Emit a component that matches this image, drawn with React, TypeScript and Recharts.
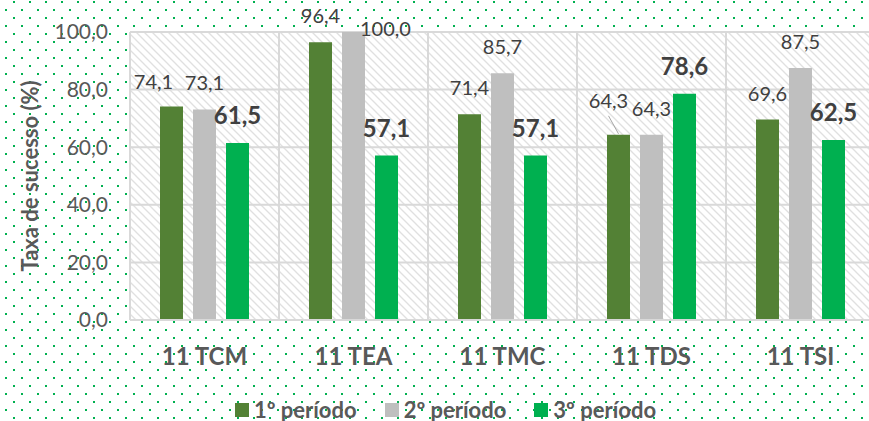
import React from 'react';
import { BarChart, Bar, XAxis, YAxis, CartesianGrid, Legend, LabelList } from 'recharts';

const categories = ['11 TCM', '11 TEA', '11 TMC', '11 TDS', '11 TSI'];
const periodo1 = [74.1, 96.4, 71.4, 64.3, 69.6];
const periodo2 = [73.1, 100.0, 85.7, 64.3, 87.5];
const periodo3 = [61.5, 57.1, 57.1, 78.6, 62.5];
const seriesNames = ['1º período', '2º período', '3º período'];
const yTicks = [0, 20, 40, 60, 80, 100];

const data = categories.map((name, i) => ({
  name,
  p1: periodo1[i],
  p2: periodo2[i],
  p3: periodo3[i],
}));

// manual label moves, like the ones Excel ended up with
const nudges: Record<string, { dx: number; dy: number; leader?: boolean }> = {
  '1-0': { dx: -18, dy: 1 },
  '2-1': { dx: 32, dy: 23 },
  '1-3': { dx: -10, dy: -8, leader: true },
};

const fmt = (v: number) => Number(v).toFixed(1).replace('.', ',');

const dotSvg =
  "<svg xmlns='http://www.w3.org/2000/svg' width='16' height='16'>" +
  "<rect x='13' y='1' width='2' height='2' fill='#00B050'/>" +
  "<rect x='5' y='9' width='2' height='2' fill='#00B050'/></svg>";

const renderLabel = (series: number, bold: boolean) => (props: any) => {
  const { x, y, width, value, index } = props;
  const cx = Number(x) + Number(width) / 2;
  const top = Number(y);
  const n = nudges[`${series}-${index}`] || { dx: 0, dy: 0 };
  const lx = cx + n.dx;
  const base = top - 19 + n.dy;
  return (
    <g>
      {n.leader && <line x1={lx} y1={base + 8} x2={cx} y2={top - 1} stroke="#A6A6A6" strokeWidth={1} />}
      <text x={lx} y={base} textAnchor="middle" fontSize={bold ? 24 : 20} fontWeight={bold ? 700 : 400} fill="#404040">
        {fmt(value)}
      </text>
    </g>
  );
};

const renderLegend = (props: any) => {
  const items = props.payload || [];
  return (
    <ul style={{ display: 'flex', justifyContent: 'center', margin: 0, padding: 0, paddingLeft: 16, listStyle: 'none', lineHeight: '24px' }}>
      {items.map((e: any, i: number) => (
        <li key={i} style={{ display: 'flex', alignItems: 'center', marginRight: i < items.length - 1 ? 28 : 0 }}>
          <span style={{ display: 'inline-block', width: 14, height: 14, background: e.color, marginRight: 5 }} />
          <span style={{ fontSize: 22, fontWeight: 700, color: '#595959' }}>{e.value}</span>
        </li>
      ))}
    </ul>
  );
};

export default function App() {
  return (
    <div
      style={{
        position: 'absolute',
        left: 0,
        top: 0,
        width: 869,
        height: 421,
        overflow: 'hidden',
        background: `#fff url("data:image/svg+xml,${encodeURIComponent(dotSvg)}")`,
        fontFamily: 'Lato, sans-serif',
      }}
    >
      <BarChart width={880} height={422} data={data} margin={{ top: 32, right: 5, left: 0, bottom: 0 }} barGap={10} barSize={23}>
        <defs>
          <pattern id="hatch" width="8" height="8" patternUnits="userSpaceOnUse">
            <rect width="8" height="8" fill="#fff" />
            <path d="M0,0 L8,8 M-2,6 L2,10 M6,-2 L10,2" stroke="#E0E0E0" strokeWidth={1.3} />
          </pattern>
        </defs>
        <CartesianGrid
          fill="url(#hatch)"
          stroke="#D9D9D9"
          strokeWidth={2}
          verticalCoordinatesGenerator={({ offset }: any) =>
            categories.map((_, i) => offset.left + (i * offset.width) / categories.length).concat(offset.left + offset.width)
          }
        />
        <XAxis
          dataKey="name"
          height={78}
          tickSize={0}
          tickMargin={28}
          axisLine={{ stroke: '#D9D9D9', strokeWidth: 2 }}
          tick={{ fontSize: 24, fontWeight: 700, fill: '#595959' }}
        />
        <YAxis
          width={130}
          domain={[0, 100]}
          ticks={yTicks}
          tickFormatter={fmt}
          tickSize={0}
          tickMargin={22}
          axisLine={false}
          tick={{ fontSize: 21, fill: '#595959' }}
          label={{
            value: 'Taxa de sucesso (%)',
            angle: -90,
            position: 'insideLeft',
            offset: 30,
            style: { textAnchor: 'middle', fontSize: 22, fontWeight: 700, fill: '#595959' },
          }}
        />
        <Legend verticalAlign="bottom" height={24} content={renderLegend} />
        <Bar dataKey="p1" name={seriesNames[0]} fill="#538135" isAnimationActive={false}>
          <LabelList dataKey="p1" content={renderLabel(1, false)} />
        </Bar>
        <Bar dataKey="p2" name={seriesNames[1]} fill="#BFBFBF" isAnimationActive={false}>
          <LabelList dataKey="p2" content={renderLabel(2, false)} />
        </Bar>
        <Bar dataKey="p3" name={seriesNames[2]} fill="#00B050" isAnimationActive={false}>
          <LabelList dataKey="p3" content={renderLabel(3, true)} />
        </Bar>
      </BarChart>
    </div>
  );
}
